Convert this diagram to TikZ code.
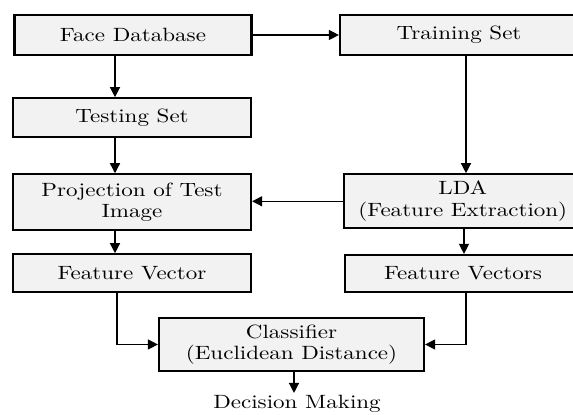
\documentclass[tikz,border=0pt]{standalone}
\usepackage{fontspec}
\setmainfont{lmroman10-regular}[Extension=.otf, FakeStretch=1.2]
\usetikzlibrary{arrows.meta}
\begin{document}
\begin{tikzpicture}[x=0.5pt,y=-0.5pt,
  box/.style={draw=black, line width=1.1pt, fill=black!5, inner sep=0pt, align=center,
    font=\fontsize{9.6}{10.8}\selectfont},
  conn/.style={line width=0.65pt, -{Triangle[width=5pt,length=5pt]}},
  plain/.style={inner sep=1pt, font=\fontsize{9.6}{10.8}\selectfont}]
\useasboundingbox (0,0) rectangle (573,415);
\fill[white] (0,0) rectangle (573,415);
\begin{scope}
\clip (0,0) rectangle (573,415);
\node[box, minimum width=118.5pt, minimum height=20pt] (fdb) at (133,35) {Face Database};
\node[box, minimum width=119pt, minimum height=19.2pt] (test) at (132,117.5) {Testing Set};
\node[box, minimum width=119pt, minimum height=27.85pt] (proj) at (132,202.2) {Projection of Test\\Image};
\node[box, minimum width=119pt, minimum height=19pt] (fv) at (132,273.3) {Feature Vector};
\node[box, minimum width=119pt, minimum height=20pt] (train) at (459,35) {Training Set};
\node[box, minimum width=119.2pt, minimum height=27pt] (lda) at (462.8,201.3) {LDA\\(Feature Extraction)};
\node[box, minimum width=118pt, minimum height=18.5pt] (fvs) at (463,273.5) {Feature Vectors};
\node[box, minimum width=132.5pt, minimum height=26.2pt] (cls) at (291.5,344.5) {Classifier\\(Euclidean Distance)};
\end{scope}
\node[plain] (dec) at (297,404) {Decision Making};
\coordinate (xl) at (115,0);
\coordinate (xl2) at (117,0);
\coordinate (xr) at (466,0);
\coordinate (xr2) at (464,0);
\coordinate (xc) at (294,0);
\draw[conn] (fdb.east) -- (train.west);
\draw[conn] (fdb.south -| xl) -- (test.north -| xl);
\draw[conn] (test.south -| xl) -- (proj.north -| xl);
\draw[conn] (train.south -| xr) -- (lda.north -| xr);
\draw[conn] (lda.west) -- (proj.east |- lda.west);
\draw[conn] (proj.south -| xl) -- (fv.north -| xl);
\draw[conn] (lda.south -| xr2) -- (fvs.north -| xr2);
\draw[conn] (fv.south -| xl2) |- (cls.west);
\draw[conn] (fvs.south -| xr) |- (cls.east);
\draw[conn] (cls.south -| xc) -- (dec.north -| xc);
\end{tikzpicture}
\end{document}
